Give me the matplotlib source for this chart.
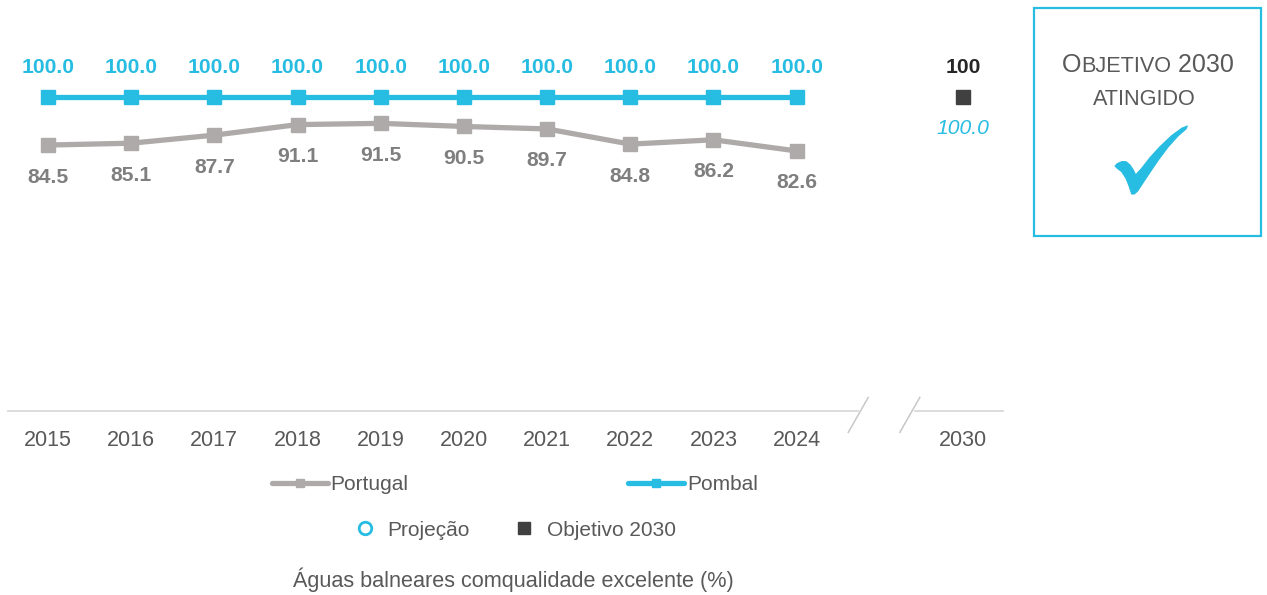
import numpy as np
import matplotlib
matplotlib.use("Agg")
import matplotlib.pyplot as plt
from matplotlib.lines import Line2D
from matplotlib.patches import Rectangle, Polygon

plt.rcParams['font.family'] = ['Liberation Sans', 'DejaVu Sans']

# Data
years = [2015, 2016, 2017, 2018, 2019, 2020, 2021, 2022, 2023, 2024]
portugal = [84.5, 85.1, 87.7, 91.1, 91.5, 90.5, 89.7, 84.8, 86.2, 82.6]
pombal = [100.0, 100.0, 100.0, 100.0, 100.0, 100.0, 100.0, 100.0, 100.0, 100.0]
target_year = 2030
target_value = 100
projection_value = 100.0
tick_labels = [str(y) for y in years] + [str(target_year)]

GREY = '#AEAAAA'
GREY_TXT = '#7F7F7F'
CYAN = '#27BCE1'
DARK = '#404040'
TXT = '#595959'

W, H = 1267, 595
fig = plt.figure(figsize=(W / 100, H / 100), dpi=100)
ax = fig.add_axes([8 / W, (H - 411) / H, 995 / W, 411 / H])

xpos = np.arange(len(years))
xt = len(years) + 1   # gap of one slot before 2030

ax.plot(xpos, portugal, color=GREY, lw=3.8, marker='s', ms=10, solid_capstyle='round')
ax.plot(xpos, pombal, color=CYAN, lw=3.8, marker='s', ms=10, solid_capstyle='round')
ax.plot([xt], [target_value], ls='none', marker='s', ms=10, color=DARK)

for x, v in zip(xpos, portugal):
    ax.annotate(f'{v:.1f}', (x, v), xytext=(0, -23), textcoords='offset points',
                ha='center', va='center', fontsize=15.2, fontweight='bold', color=GREY_TXT)
for x, v in zip(xpos, pombal):
    ax.annotate(f'{v:.1f}', (x, v), xytext=(0, 21.5), textcoords='offset points',
                ha='center', va='center', fontsize=15.2, fontweight='bold', color=CYAN)
ax.annotate(f'{target_value}', (xt, target_value), xytext=(0, 21.5), textcoords='offset points',
            ha='center', va='center', fontsize=15.2, fontweight='bold', color='#262626')
ax.annotate(f'{projection_value:.1f}', (xt, projection_value), xytext=(0, -22.5),
            textcoords='offset points', ha='center', va='center', fontsize=15.2,
            fontstyle='italic', color=CYAN)

ax.set_xlim(-0.48, 11.48)
ax.set_ylim(-1.3, 131.3)
ax.set_xticks(list(xpos) + [xt])
ax.set_xticklabels(tick_labels)
ax.tick_params(axis='x', length=0, pad=14, labelsize=15.5, labelcolor=TXT)
ax.set_yticks([])
for s in ax.spines.values():
    s.set_visible(False)

# broken axis line
tr = ax.get_xaxis_transform()
ax.plot([-0.48, 9.74], [0, 0], color='#D9D9D9', lw=1.3, transform=tr, clip_on=False)
ax.plot([10.42, 11.48], [0, 0], color='#D9D9D9', lw=1.3, transform=tr, clip_on=False)
for x0 in (9.62, 10.24):
    ax.plot([x0, x0 + 0.24], [-0.052, 0.033], color='#C8C8C8', lw=1.1,
            transform=tr, clip_on=False)

# legends
h_pt = Line2D([], [], color=GREY, lw=3.8, marker='s', ms=5.5, solid_capstyle='round')
h_pb = Line2D([], [], color=CYAN, lw=3.8, marker='s', ms=5.5, solid_capstyle='round')
fig.legend(handles=[h_pt, h_pb], labels=['Portugal', 'Pombal'], loc='center',
           bbox_to_anchor=(515 / W, 1 - 485 / H), ncol=2, frameon=False, fontsize=15,
           handlelength=2.65, handletextpad=0.15, columnspacing=10.55, labelcolor=TXT)
h_proj = Line2D([], [], ls='none', marker='o', ms=9, mfc='white', mec=CYAN, mew=2)
h_obj = Line2D([], [], ls='none', marker='s', ms=9, color=DARK)
fig.legend(handles=[h_proj, h_obj], labels=['Projeção', 'Objetivo 2030'],
           loc='center', bbox_to_anchor=(515 / W, 1 - 530 / H), ncol=2,
           frameon=False, fontsize=15, handlelength=1.0, handletextpad=0.6,
           columnspacing=2.1, labelcolor=TXT)
fig.text(513 / W, 1 - 580 / H, 'Águas balneares comqualidade excelente (%)',
         ha='center', va='center', fontsize=15.6, color=TXT)

# target box
fig.patches.append(Rectangle((1034 / W, 1 - 236 / H), 227 / W, 228 / H,
                             transform=fig.transFigure, fill=False, ec=CYAN, lw=1.6))


def small_caps(parts, xc, base):
    renderer = fig.canvas.get_renderer()
    texts = []
    for s, size in parts:
        t = fig.text(0, base / H, s, fontsize=size, color=TXT, ha='left', va='baseline',
                     transform=fig.transFigure)
        texts.append(t)
    widths = [t.get_window_extent(renderer).width for t in texts]
    x = xc - sum(widths) / 2
    for t, w in zip(texts, widths):
        t.set_x(x / W)
        x += w


small_caps([('O', 18), ('BJETIVO', 15.6), (' 2030', 18)], 1148, H - 72)
small_caps([('ATINGIDO', 15.6)], 1144, H - 105)

# check mark outline (pixels in the box)
check_px = [(95, 237), (88, 215), (78, 190), (65, 170), (52, 160), (45, 153), (52, 146),
            (65, 140), (78, 140), (90, 150), (100, 165), (107, 180), (125, 160), (150, 128),
            (180, 95), (215, 62), (245, 40), (262, 33), (258, 42), (235, 62), (205, 95),
            (175, 135), (150, 172), (128, 205), (113, 228), (103, 237)]
check = [((1100 + px / 3) / W, 1 - (115 + py / 3) / H) for px, py in check_px]
fig.patches.append(Polygon(check, closed=True, transform=fig.transFigure,
                           fc=CYAN, ec=CYAN, lw=0.8, joinstyle='round'))

fig.savefig('out.png', dpi=100)
